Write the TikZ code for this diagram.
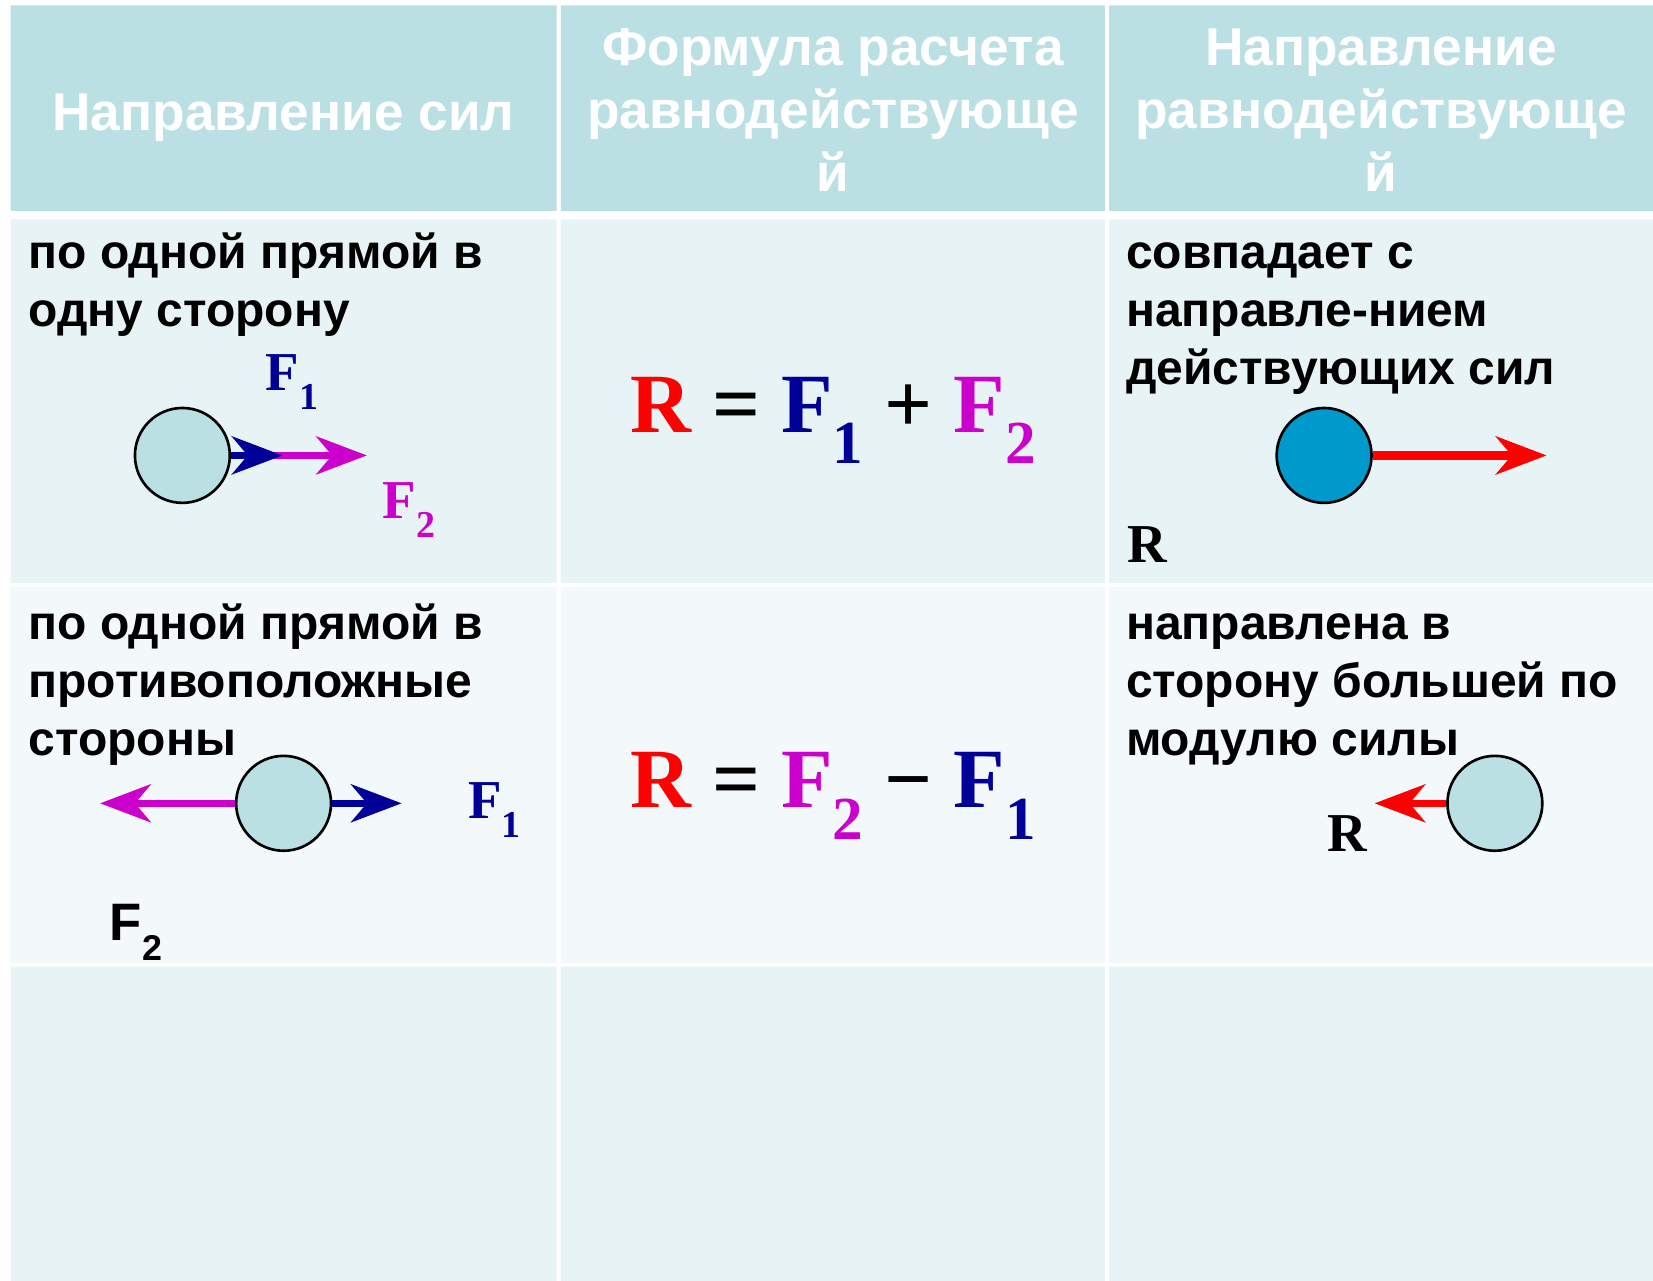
\documentclass[tikz,border=0pt]{standalone}
\usepackage{fontspec}
\setmainfont{Liberation Sans}
\newfontfamily\tnr{Liberation Serif}
\usetikzlibrary{arrows.meta}
\definecolor{hdr}{RGB}{187,224,228}
\definecolor{rowa}{RGB}{231,243,245}
\definecolor{rowb}{RGB}{243,248,250}
\definecolor{navy}{RGB}{0,0,153}
\definecolor{mag}{RGB}{204,0,204}
\definecolor{ballblue}{RGB}{0,153,204}
\newcommand\bigsub[1]{\raisebox{-30pt}{\fontsize{58}{58}\selectfont #1}}
\newcommand\smsub[1]{\raisebox{-18pt}{\fontsize{36}{36}\selectfont #1}}
\begin{document}
\begin{tikzpicture}[x=1pt,y=-1pt,
  hdrtxt/.style={text=white,font=\fontsize{50.5}{60}\selectfont\bfseries,anchor=base,inner sep=0pt},
  bodytxt/.style={text=black,font=\fontsize{45.5}{55}\selectfont\bfseries,anchor=base west,inner sep=0pt},
  ball/.style={circle,draw=black,line width=2.5pt,fill=hdr,minimum size=90pt,inner sep=0pt},
  force/.style={line width=7pt,-{Stealth[length=48pt,width=36pt,inset=15pt]}},
  lbl/.style={font=\tnr\bfseries\fontsize{52}{52}\selectfont,inner sep=0pt,anchor=base west},
  formula/.style={font=\tnr\bfseries\fontsize{80}{80}\selectfont,inner sep=0pt,anchor=base},
]
\useasboundingbox (0,0) rectangle (1568,1215);
\fill[white] (0,0) rectangle (1568,1215);
% header
\fill[hdr] (10,5) rectangle (528,200) (532,5) rectangle (1048,200) (1052,5) rectangle (1568,200);
% rows
\fill[rowa] (10,208) rectangle (528,553) (532,208) rectangle (1048,553) (1052,208) rectangle (1568,553);
\fill[rowb] (10,557) rectangle (528,913) (532,557) rectangle (1048,913) (1052,557) rectangle (1568,913);
\fill[rowa] (10,917) rectangle (528,1215) (532,917) rectangle (1048,1215) (1052,917) rectangle (1568,1215);

% header texts
\node[hdrtxt] (h1) at (269,124) {Направление сил};
\node[hdrtxt] (h2a) at (790,62) {Формула расчета};
\node[hdrtxt] (h2b) at (790,122) {равнодействующе};
\node[hdrtxt] (h2c) at (790,182) {й};
\node[hdrtxt] (h3a) at (1310,62) {Направление};
\node[hdrtxt] (h3b) at (1310,122) {равнодействующе};
\node[hdrtxt] (h3c) at (1310,182) {й};

% body texts
\node[bodytxt] (t11a) at (27,255) {по одной прямой в};
\node[bodytxt] (t11b) at (27,310) {одну сторону};
\node[bodytxt] (t13a) at (1068,255) {совпадает с};
\node[bodytxt] (t13b) at (1068,310) {направле-нием};
\node[bodytxt] (t13c) at (1068,365) {действующих сил};
\node[bodytxt] (t21a) at (27,607) {по одной прямой в};
\node[bodytxt] (t21b) at (27,662) {противоположные};
\node[bodytxt] (t21c) at (27,717) {стороны};
\node[bodytxt] (t23a) at (1068,607) {направлена в};
\node[bodytxt] (t23b) at (1068,662) {сторону большей по};
\node[bodytxt] (t23c) at (1068,717) {модулю силы};

% formulas
\node[formula] (f1) at (790,410) {\textcolor{red}{R} = \textcolor{navy}{F\bigsub{1}} + \textcolor{mag}{F\bigsub{2}}};
\node[formula] (f2) at (790,766) {\textcolor{red}{R} = \textcolor{mag}{F\bigsub{2}} {\fontsize{80}{80}\selectfont\char"2212} \textcolor{navy}{F\bigsub{1}}};

% row 1, column 1
\node[ball] (b1) at (173,432) {};
\coordinate (m1) at (348,432);
\coordinate (n1) at (268,432);
\draw[force,mag] (b1.east) -- (m1);
\draw[force,navy] (b1.east) -- (n1);
\node[lbl,text=navy] (lf11) at (252,370) {F\smsub{1}};
\node[lbl,text=mag] (lf12) at (363,492) {F\smsub{2}};

% row 2, column 1
\node[ball] (b2) at (269,762) {};
\coordinate (m2) at (95,762);
\coordinate (n2) at (381,762);
\draw[force,mag] (b2.west) -- (m2);
\draw[force,navy] (b2.east) -- (n2);
\node[lbl,text=navy] (lf21) at (444,776) {F\smsub{1}};
\node[inner sep=0pt,anchor=base west,font=\fontsize{50}{50}\selectfont\bfseries] (lf22) at (104,892) {F\raisebox{-19pt}{\fontsize{34}{34}\selectfont 2}};

% row 1, column 3
\node[ball,fill=ballblue] (b3) at (1256,432) {};
\coordinate (r3) at (1467,432);
\draw[force,red,line width=8pt] (b3.east) -- (r3);
\node[lbl] (lr1) at (1069,534) {R};

% row 2, column 3
\node[ball] (b4) at (1418,762) {};
\coordinate (r4) at (1304,762);
\draw[force,red] (b4.west) -- (r4);
\node[lbl] (lr2) at (1259,808) {R};
\end{tikzpicture}
\end{document}
